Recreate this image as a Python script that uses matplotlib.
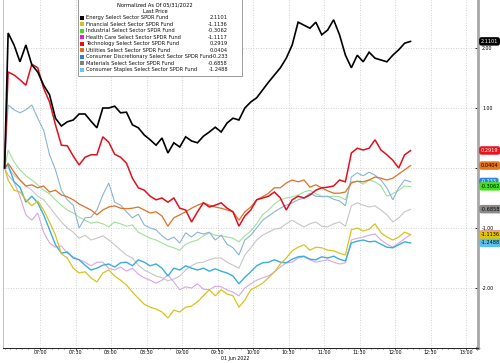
import matplotlib
matplotlib.use("Agg")
import matplotlib.pyplot as plt
import matplotlib.dates as mdates
import matplotlib.transforms as mtransforms
from matplotlib.patches import Rectangle
from matplotlib.ticker import MultipleLocator, FuncFormatter
import pandas as pd

# time axis: normalisation point, then 5 minute bars
times = [pd.Timestamp("2022-06-01 06:30")] + list(
    pd.date_range("2022-06-01 06:33", periods=69, freq="5min"))
tick_times = list(pd.date_range("2022-06-01 07:00", "2022-06-01 13:00", freq="30min"))

names = ["Energy Select Sector SPDR Fund",
         "Financial Select Sector SPDR Fund",
         "Industrial Select Sector SPDR Fund",
         "Health Care Select Sector SPDR Fund",
         "Technology Select Sector SPDR Fund",
         "Utilities Select Sector SPDR Fund",
         "Consumer Discretionary Select Sector SPDR Fund",
         "Materials Select Sector SPDR Fund",
         "Consumer Staples Select Sector SPDR Fund"]
last_price = ["2.1101", "-1.1136", "-0.3062", "-1.1117", "0.2919",
              "0.0404", "-0.233", "-0.6858", "-1.2488"]

energy = [0.0,
          2.25, 2.05, 1.77, 2.05, 1.72, 1.6, 1.38, 1.22, 0.83, 0.7,
          0.77, 0.8, 0.9, 0.9, 0.78, 0.67, 1.0, 1.0, 1.03, 0.92,
          0.93, 0.72, 0.67, 0.55, 0.47, 0.38, 0.5, 0.25, 0.42, 0.35,
          0.52, 0.45, 0.42, 0.53, 0.6, 0.68, 0.6, 0.75, 0.83, 0.8,
          1.0, 1.1, 1.17, 1.3, 1.43, 1.55, 1.67, 1.83, 2.05, 2.43,
          2.38, 2.33, 2.43, 2.22, 2.3, 2.47, 2.22, 1.88, 1.67, 1.88,
          1.77, 1.93, 1.83, 1.8, 1.77, 1.88, 1.97, 2.08, 2.11]
financial = [0.0,
             -0.2, -0.37, -0.4, -0.53, -0.63, -0.55, -0.7, -0.9, -1.12, -1.43,
             -1.5, -1.67, -1.75, -1.73, -1.83, -1.9, -1.75, -1.7, -1.8, -1.87,
             -1.95, -2.07, -2.17, -2.27, -2.32, -2.35, -2.4, -2.5, -2.37, -2.4,
             -2.32, -2.3, -2.23, -2.13, -2.03, -2.13, -2.03, -2.1, -2.13, -2.32,
             -2.2, -2.03, -1.98, -1.92, -1.83, -1.73, -1.6, -1.5, -1.38, -1.32,
             -1.28, -1.37, -1.32, -1.33, -1.37, -1.38, -1.42, -1.45, -1.03, -1.0,
             -1.05, -1.02, -0.93, -1.08, -1.15, -1.2, -1.15, -1.07, -1.11]
industrial = [0.0,
              0.3, 0.1, -0.03, -0.13, -0.2, -0.28, -0.37, -0.43, -0.53, -0.62,
              -0.7, -0.75, -0.82, -0.87, -0.92, -0.9, -0.93, -0.98, -0.9, -0.93,
              -0.97, -0.95, -1.07, -1.12, -1.17, -1.2, -1.25, -1.3, -1.33, -1.37,
              -1.27, -1.23, -1.2, -1.13, -1.08, -1.12, -1.13, -1.15, -1.17, -1.23,
              -1.13, -1.05, -0.93, -0.78, -0.7, -0.6, -0.53, -0.5, -0.48, -0.45,
              -0.4, -0.37, -0.43, -0.47, -0.48, -0.47, -0.48, -0.53, -0.23, -0.22,
              -0.27, -0.2, -0.23, -0.3, -0.47, -0.43, -0.37, -0.3, -0.31]
health = [0.0,
          -0.12, -0.23, -0.48, -0.78, -0.87, -0.75, -1.07, -1.25, -1.32, -1.3,
          -1.42, -1.48, -1.53, -1.57, -1.63, -1.57, -1.57, -1.67, -1.7, -1.65,
          -1.72, -1.67, -1.77, -1.83, -1.87, -1.92, -1.87, -1.78, -1.9, -2.03,
          -1.98, -2.0, -1.93, -2.02, -2.03, -1.97, -1.98, -2.03, -2.07, -2.13,
          -2.0, -1.93, -1.87, -1.83, -1.8, -1.73, -1.65, -1.58, -1.57, -1.5,
          -1.48, -1.53, -1.57, -1.55, -1.53, -1.57, -1.6, -1.58, -1.2, -1.17,
          -1.15, -1.12, -1.1, -1.2, -1.27, -1.32, -1.25, -1.18, -1.11]
technology = [0.0,
              1.6, 1.55, 1.47, 1.38, 1.73, 1.67, 1.33, 1.1, 0.72, 0.38,
              0.37, 0.2, 0.05, 0.18, 0.22, 0.22, 0.52, 0.43, 0.23, 0.18,
              0.08, -0.17, -0.33, -0.37, -0.47, -0.53, -0.5, -0.57, -0.5, -0.67,
              -0.7, -0.9, -0.73, -0.58, -0.65, -0.62, -0.58, -0.67, -0.73, -0.97,
              -0.8, -0.7, -0.53, -0.5, -0.47, -0.4, -0.5, -0.7, -0.53, -0.47,
              -0.5, -0.45, -0.37, -0.33, -0.32, -0.3, -0.2, -0.23, 0.25, 0.33,
              0.3, 0.33, 0.47, 0.3, 0.22, 0.13, 0.0, 0.22, 0.29]
utilities = [0.0,
             0.08, -0.07, -0.2, -0.3, -0.28, -0.33, -0.3, -0.4, -0.37, -0.45,
             -0.48, -0.53, -0.6, -0.65, -0.7, -0.78, -0.7, -0.65, -0.63, -0.67,
             -0.68, -0.67, -0.65, -0.7, -0.75, -0.73, -0.8, -0.97, -0.83, -0.78,
             -0.73, -0.67, -0.62, -0.58, -0.62, -0.65, -0.67, -0.7, -0.73, -0.87,
             -0.73, -0.65, -0.53, -0.48, -0.42, -0.33, -0.33, -0.25, -0.2, -0.23,
             -0.2, -0.32, -0.28, -0.33, -0.38, -0.42, -0.42, -0.4, -0.25, -0.22,
             -0.23, -0.2, -0.15, -0.17, -0.2, -0.17, -0.1, -0.03, 0.04]
discretionary = [0.0,
                 1.05, 0.97, 0.92, 0.97, 1.05, 0.83, 0.63, 0.22, -0.03, -0.37,
                 -0.53, -0.62, -1.0, -0.83, -0.82, -0.7, -0.45, -0.25, -0.57, -0.62,
                 -0.73, -0.83, -0.77, -0.95, -1.0, -1.03, -1.13, -1.2, -1.15, -1.25,
                 -1.08, -1.15, -1.07, -1.1, -1.07, -1.2, -1.12, -1.27, -1.33, -1.45,
                 -1.2, -1.12, -1.0, -0.87, -0.8, -0.73, -0.67, -0.62, -0.58, -0.53,
                 -0.5, -0.42, -0.47, -0.48, -0.47, -0.52, -0.55, -0.63, -0.15, -0.08,
                 -0.13, -0.07, -0.12, -0.2, -0.33, -0.53, -0.33, -0.2, -0.23]
materials = [0.0,
             0.0, -0.12, -0.2, -0.3, -0.37, -0.47, -0.53, -0.65, -0.78, -0.9,
             -1.0, -1.07, -1.17, -1.12, -1.2, -1.17, -1.13, -1.2, -1.28, -1.37,
             -1.45, -1.5, -1.62, -1.7, -1.75, -1.8, -1.83, -1.88, -1.85, -1.8,
             -1.7, -1.63, -1.58, -1.57, -1.53, -1.5, -1.5, -1.57, -1.62, -1.67,
             -1.45, -1.33, -1.2, -1.12, -1.07, -1.02, -1.0, -0.93, -0.87, -0.93,
             -0.98, -0.93, -0.9, -0.97, -0.98, -0.93, -0.9, -0.97, -0.63, -0.58,
             -0.62, -0.65, -0.63, -0.7, -0.78, -0.9, -0.83, -0.73, -0.69]
staples = [0.0,
           0.05, -0.23, -0.32, -0.57, -0.47, -0.58, -0.78, -1.03, -1.28, -1.42,
           -1.4, -1.5, -1.53, -1.62, -1.7, -1.67, -1.62, -1.6, -1.65, -1.58,
           -1.57, -1.63, -1.53, -1.57, -1.63, -1.6, -1.67, -1.8, -1.67, -1.7,
           -1.63, -1.67, -1.7, -1.67, -1.72, -1.68, -1.72, -1.75, -1.8, -1.93,
           -1.82, -1.73, -1.63, -1.58, -1.57, -1.53, -1.57, -1.58, -1.52, -1.48,
           -1.47, -1.52, -1.53, -1.48, -1.5, -1.47, -1.52, -1.55, -1.25, -1.22,
           -1.2, -1.23, -1.22, -1.27, -1.32, -1.33, -1.28, -1.23, -1.25]

series = [energy, financial, industrial, health, technology,
          utilities, discretionary, materials, staples]

line_colors = ["#000000", "#d6c51c", "#9fdf9a", "#d8a6e6", "#e0101e",
               "#de7028", "#8ab4d4", "#c6c6c6", "#3aaee0"]
line_widths = [1.2, 0.9, 0.8, 0.8, 1.1, 0.9, 0.8, 0.8, 1.0]
swatch_colors = ["#000000", "#d4c020", "#44dd22", "#e020d8", "#e01010",
                 "#e07020", "#2a7fd8", "#808080", "#66c6f0"]
tag_colors = ["#000000", "#e2c400", "#44e020", "#e020d8", "#e8141c",
              "#e8741c", "#2a86e0", "#8a8a8a", "#5bc2ee"]
tag_text = ["white", "black", "black", "black", "white",
            "black", "white", "black", "black"]

W, H = 500, 363


def fx(px):
    return px / W


def fy(py):
    return 1 - py / H


fig = plt.figure(figsize=(5, 3.63), dpi=100)
ax = fig.add_axes([fx(3), fy(348), fx(475), 348 / H])

# draw back to front so energy / tech sit on top
order = [7, 3, 2, 6, 8, 1, 5, 4, 0]
for n, k in enumerate(order):
    ax.plot(times, series[k], color=line_colors[k], lw=line_widths[k],
            solid_joinstyle="miter", zorder=3 + n * 0.1)

ax.set_xlim(pd.Timestamp("2022-06-01 06:28:40"), pd.Timestamp("2022-06-01 13:10"))
ax.set_ylim(-3.0, 2.8)

ax.set_xticks(tick_times)
ax.xaxis.set_major_formatter(mdates.DateFormatter("%H:%M"))
ax.xaxis.set_minor_locator(mdates.MinuteLocator(byminute=range(0, 60, 5)))
ax.yaxis.tick_right()
ax.set_yticks([-2, -1, 0, 1, 2])
ax.yaxis.set_major_formatter(FuncFormatter(lambda v, p: "" if v == 0 else "%.2f" % v))
ax.yaxis.set_minor_locator(MultipleLocator(0.5))

ax.tick_params(axis="x", which="major", labelsize=3.4, length=1.2, width=0.5, pad=0.6)
ax.tick_params(axis="x", which="minor", length=0.8, width=0.4)
ax.tick_params(axis="y", which="major", labelsize=3.4, length=2, width=0.6,
               direction="in", pad=3)
ax.tick_params(axis="y", which="minor", length=1, width=0.4, direction="in")

ax.grid(True, which="major", color="#c4c4c4", linestyle=(0, (1, 2)), linewidth=0.6)
ax.spines["top"].set_visible(False)
ax.spines["left"].set_color("#b8b8b8")
ax.spines["left"].set_linewidth(0.6)
ax.spines["right"].set_color("#a8a8a8")
ax.spines["right"].set_linewidth(2.0)
ax.spines["bottom"].set_color("#222222")
ax.spines["bottom"].set_linewidth(0.7)
ax.plot(1.0, 0.0, ">", color="#222222", ms=2, transform=ax.transAxes, clip_on=False)

# last-price tags on the right edge
trans = mtransforms.blended_transform_factory(ax.transAxes, ax.transData)
for k in [3, 0, 4, 5, 6, 2, 7, 1, 8]:
    ax.text(1.006, float(last_price[k]), last_price[k], transform=trans,
            ha="left", va="center", fontsize=3.6, color=tag_text[k],
            bbox=dict(boxstyle="round,pad=0.35,rounding_size=0.5",
                      fc=tag_colors[k], ec="none"),
            clip_on=False, zorder=10)

fig.text(fx(235), fy(358.5), "01 Jun 2022", fontsize=3.4, ha="center", va="center")

# legend box
box = Rectangle((fx(78), fy(76)), fx(242 - 78), 77 / H, transform=fig.transFigure,
                fc="white", ec="#9a9a9a", lw=0.7, zorder=20)
fig.add_artist(box)
fig.text(fx(155), fy(5.3), "Normalized As Of 05/31/2022", fontsize=3.7,
         ha="center", va="center", zorder=21)
fig.text(fx(155), fy(11.5), "Last Price", fontsize=3.7,
         ha="center", va="center", zorder=21)
for i, (name, val) in enumerate(zip(names, last_price)):
    yy = 17.8 + i * 6.5
    fig.add_artist(Rectangle((fx(80), fy(yy + 2)), fx(4), 4 / H,
                             transform=fig.transFigure, fc=swatch_colors[i],
                             ec="none", zorder=21))
    fig.text(fx(86), fy(yy), name, fontsize=3.7, ha="left", va="center",
             color="#111111", zorder=21)
    fig.text(fx(228), fy(yy), val, fontsize=3.7, ha="right", va="center",
             color="#111111", zorder=21)

fig.savefig("out.png", dpi=100)
